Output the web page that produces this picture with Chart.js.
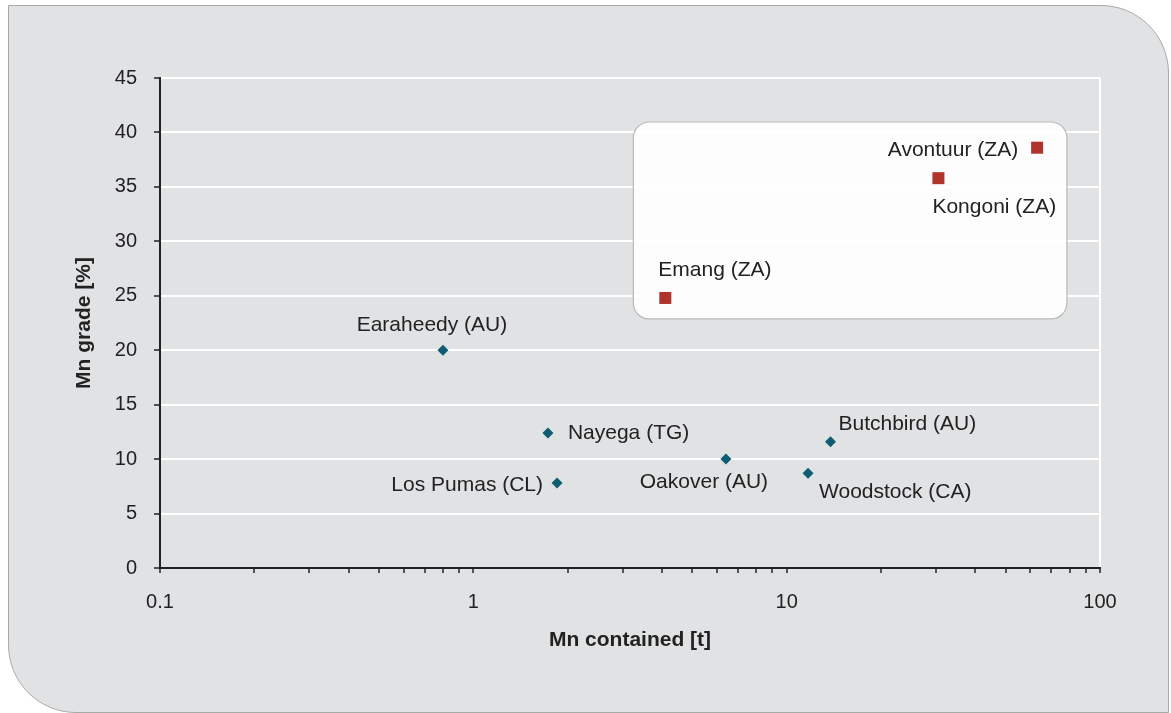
<!DOCTYPE html>
<html>
<head>
<meta charset="utf-8">
<script src="https://cdn.jsdelivr.net/npm/chart.js@4.4.1/dist/chart.umd.min.js"></script>
<style>
    html, body { margin: 0; padding: 0; background: #ffffff; overflow: hidden; }
    #panel {
        position: absolute; left: 8px; top: 5px; width: 1161px; height: 708px;
        box-sizing: border-box; background: #e1e2e4; border: 1.5px solid #a9a9a9;
        border-radius: 0 68px 0 68px;
    }
    #wrap { position: absolute; left: 0; top: 0; width: 1171px; height: 713px; }
</style>
</head>
<body>
<div id="panel"></div>
<div id="wrap"><canvas id="chart" width="1171" height="713"></canvas></div>
<script>
// projects outside ZA
const otherNames = ["Earaheedy (AU)", "Nayega (TG)", "Los Pumas (CL)", "Oakover (AU)", "Butchbird (AU)", "Woodstock (CA)"];
const otherContained = [0.80, 1.73, 1.85, 6.4, 13.8, 11.7];
const otherGrade = [20.0, 12.4, 7.8, 10.0, 11.6, 8.7];

// South African projects
const zaNames = ["Avontuur (ZA)", "Kongoni (ZA)", "Emang (ZA)"];
const zaContained = [63, 30.5, 4.1];
const zaGrade = [38.6, 35.8, 24.8];

// axes
const xMajorTicks = [0.1, 1, 10, 100];
const xTickLabels = ["0.1", "1", "10", "100"];
const yTicks = [0, 5, 10, 15, 20, 25, 30, 35, 40, 45];

const font = "'Liberation Sans', Arial, sans-serif";
const textColor = "#222222";

// where each label sits relative to its marker
const labelPlace = {
    "Earaheedy (AU)": { align: "center", dx: -11, dy: -25 },
    "Nayega (TG)": { align: "left", dx: 20, dy: 0 },
    "Los Pumas (CL)": { align: "right", dx: -14, dy: 2 },
    "Oakover (AU)": { align: "center", dx: -22, dy: 23 },
    "Butchbird (AU)": { align: "left", dx: 8, dy: -17 },
    "Woodstock (CA)": { align: "left", dx: 11, dy: 19 },
    "Avontuur (ZA)": { align: "right", dx: -19, dy: 3 },
    "Kongoni (ZA)": { align: "left", dx: -6, dy: 29 },
    "Emang (ZA)": { align: "left", dx: -7, dy: -28 }
};

// white highlight box behind the ZA group, in data units
const zaBox = { xMin: 3.24, xMax: 78.4, yMin: 22.87, yMax: 40.96 };

function toPoints(xs, ys) {
    return xs.map((x, i) => ({ x: x, y: ys[i] }));
}

const zaBoxPlugin = {
    id: "zaBox",
    beforeDatasetsDraw(chart) {
        const { ctx, scales: { x, y } } = chart;
        const l = x.getPixelForValue(zaBox.xMin), r = x.getPixelForValue(zaBox.xMax);
        const t = y.getPixelForValue(zaBox.yMax), b = y.getPixelForValue(zaBox.yMin);
        ctx.save();
        ctx.beginPath();
        ctx.roundRect(l, t, r - l, b - t, 16);
        ctx.fillStyle = "rgba(255,255,255,0.93)";
        ctx.fill();
        ctx.strokeStyle = "#b9b9b9";
        ctx.lineWidth = 1.2;
        ctx.stroke();
        ctx.restore();
    }
};

const pointLabels = {
    id: "pointLabels",
    afterDatasetsDraw(chart) {
        const ctx = chart.ctx;
        ctx.save();
        ctx.font = "21px " + font;
        ctx.fillStyle = textColor;
        ctx.textBaseline = "middle";
        chart.data.datasets.forEach((ds, di) => {
            const meta = chart.getDatasetMeta(di);
            meta.data.forEach((pt, i) => {
                const name = ds.names[i];
                const p = labelPlace[name];
                ctx.textAlign = p.align;
                ctx.fillText(name, pt.x + p.dx, pt.y + p.dy);
            });
        });
        ctx.restore();
    }
};

// log axis ticks: majors plus the 2..9 minors of each decade
const xAllTicks = [];
for (let d = 0; d < xMajorTicks.length - 1; d++) {
    for (let k = 1; k <= 9; k++) xAllTicks.push(+(xMajorTicks[d] * k).toPrecision(3));
}
xAllTicks.push(xMajorTicks[xMajorTicks.length - 1]);

new Chart(document.getElementById("chart"), {
    type: "scatter",
    data: {
        datasets: [
            {
                label: "Other",
                names: otherNames,
                data: toPoints(otherContained, otherGrade),
                pointStyle: "rectRot",
                pointRadius: 5.5,
                pointHoverRadius: 5.5,
                backgroundColor: "#0e5d72",
                borderColor: "#0e5d72",
                borderWidth: 0
            },
            {
                label: "ZA",
                names: zaNames,
                data: toPoints(zaContained, zaGrade),
                pointStyle: "rect",
                pointRadius: 8.5,
                pointHoverRadius: 8.5,
                backgroundColor: "#b0342b",
                borderColor: "#b0342b",
                borderWidth: 0
            }
        ]
    },
    options: {
        responsive: false,
        animation: false,
        events: [],
        layout: { padding: { left: 60, right: 71, top: 78, bottom: 55 } },
        plugins: { legend: { display: false }, tooltip: { enabled: false } },
        scales: {
            x: {
                type: "logarithmic",
                min: 0.1,
                max: 100,
                afterBuildTicks: (scale) => { scale.ticks = xAllTicks.map(v => ({ value: v })); },
                afterFit: (scale) => { scale.height = 90; },
                border: { color: textColor, width: 2 },
                grid: {
                    color: (c) => (c.tick && c.tick.value === 100 ? "#ffffff" : "rgba(0,0,0,0)"),
                    lineWidth: 2,
                    tickColor: textColor,
                    tickWidth: 1.5,
                    tickLength: 5
                },
                ticks: {
                    autoSkip: false,
                    maxRotation: 0,
                    padding: 17,
                    color: textColor,
                    font: { family: font, size: 20 },
                    callback: (v) => {
                        const i = xMajorTicks.indexOf(+v);
                        return i >= 0 ? xTickLabels[i] : "";
                    }
                },
                title: {
                    display: true,
                    text: "Mn contained [t]",
                    color: textColor,
                    font: { family: font, size: 21, weight: "bold" },
                    padding: { top: 0, bottom: 5 }
                }
            },
            y: {
                min: 0,
                max: 45,
                afterBuildTicks: (scale) => { scale.ticks = yTicks.map(v => ({ value: v })); },
                afterFit: (scale) => { scale.width = 100; },
                border: { color: textColor, width: 2 },
                grid: {
                    color: "#ffffff",
                    lineWidth: 2,
                    tickColor: textColor,
                    tickWidth: 1.5,
                    tickLength: 6
                },
                ticks: {
                    padding: 17,
                    color: textColor,
                    font: { family: font, size: 20 }
                },
                title: {
                    display: true,
                    text: "Mn grade [%]",
                    color: textColor,
                    font: { family: font, size: 21, weight: "bold" },
                    padding: { top: 12, bottom: 0 }
                }
            }
        }
    },
    plugins: [zaBoxPlugin, pointLabels]
});
</script>
</body>
</html>
